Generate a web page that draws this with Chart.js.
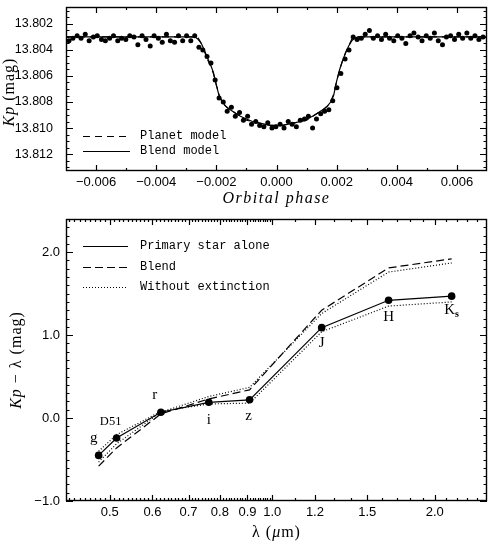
<!DOCTYPE html>
<html>
<head>
<meta charset="utf-8">
<script src="https://cdn.jsdelivr.net/npm/chart.js@4.4.0/dist/chart.umd.min.js"></script>
<style>
  body { margin: 0; background: #fff; }
  #top { position: absolute; left: 0; top: 0; width: 498px; height: 210px; }
  #bottom { position: absolute; left: 0; top: 210px; width: 498px; height: 334px; }
</style>
</head>
<body>
<div id="top"><canvas id="lightCurve"></canvas></div>
<div id="bottom"><canvas id="colorChart"></canvas></div>
<script>
// ---- top panel: light curve ----
const phaseTicks = [-0.006, -0.004, -0.002, 0.000, 0.002, 0.004, 0.006];
const phaseMinor = [-0.005, -0.003, -0.001, 0.001, 0.003, 0.005];
const kpTicks = [13.802, 13.804, 13.806, 13.808, 13.810, 13.812];

const obsPhase = [
  -0.00690, -0.00677, -0.00663, -0.00650, -0.00636, -0.00623, -0.00609, -0.00596, -0.00582, -0.00569,
  -0.00555, -0.00542, -0.00528, -0.00515, -0.00501, -0.00488, -0.00474, -0.00461, -0.00447, -0.00434,
  -0.00420, -0.00407, -0.00393, -0.00380, -0.00366, -0.00353, -0.00339, -0.00326, -0.00312, -0.00299,
  -0.00285, -0.00272, -0.00258, -0.00245, -0.00231, -0.00218, -0.00204, -0.00191, -0.00177, -0.00164,
  -0.00150, -0.00137, -0.00123, -0.00110, -0.00096, -0.00083, -0.00069, -0.00056, -0.00042, -0.00029,
  -0.00015, -0.00002, 0.00012, 0.00025, 0.00039, 0.00052, 0.00066, 0.00079, 0.00093, 0.00106,
  0.00120, 0.00133, 0.00147, 0.00160, 0.00174, 0.00187, 0.00201, 0.00214, 0.00228, 0.00241,
  0.00255, 0.00268, 0.00282, 0.00295, 0.00309, 0.00322, 0.00336, 0.00349, 0.00363, 0.00376,
  0.00390, 0.00403, 0.00417, 0.00430, 0.00444, 0.00457, 0.00471, 0.00484, 0.00498, 0.00511,
  0.00525, 0.00538, 0.00552, 0.00565, 0.00579, 0.00592, 0.00606, 0.00619, 0.00633, 0.00646,
  0.00660, 0.00673, 0.00687
];
const obsKp = [
  13.8033, 13.8031, 13.8029, 13.8031, 13.8028, 13.8033, 13.8030, 13.8029, 13.8032, 13.8033,
  13.8031, 13.8029, 13.8033, 13.8031, 13.8032, 13.8029, 13.8030, 13.8036, 13.8029, 13.8032,
  13.8037, 13.8029, 13.8031, 13.8034, 13.8028, 13.8033, 13.8034, 13.8029, 13.8033, 13.8029,
  13.8033, 13.8029, 13.8038, 13.8040, 13.8045, 13.8050, 13.8063, 13.8077, 13.8080, 13.8087,
  13.8084, 13.8091, 13.8088, 13.8094, 13.8091, 13.8097, 13.8095, 13.8098, 13.8099, 13.8096,
  13.8100, 13.8099, 13.8097, 13.8100, 13.8095, 13.8097, 13.8099, 13.8094, 13.8093, 13.8091,
  13.8100, 13.8093, 13.8089, 13.8087, 13.8086, 13.8079, 13.8069, 13.8058, 13.8047, 13.8040,
  13.8030, 13.8032, 13.8031, 13.8028, 13.8025, 13.8031, 13.8029, 13.8032, 13.8028, 13.8031,
  13.8033, 13.8029, 13.8031, 13.8035, 13.8029, 13.8027, 13.8030, 13.8033, 13.8029, 13.8031,
  13.8027, 13.8033, 13.8036, 13.8030, 13.8029, 13.8032, 13.8028, 13.8031, 13.8027, 13.8031,
  13.8029, 13.8032, 13.8030
];

const modelPhase = [
  -0.0070, -0.0027, -0.0026, -0.0025, -0.0024, -0.0023, -0.0022, -0.0021, -0.0020, -0.0019,
  -0.0018, -0.0017, -0.0016, -0.0014, -0.0012, -0.0010, -0.0008, -0.0006, -0.0004, -0.0002,
  0.0000, 0.0002, 0.0004, 0.0006, 0.0008, 0.0010, 0.0012, 0.0014, 0.0016, 0.0017,
  0.0018, 0.0019, 0.0020, 0.0021, 0.0022, 0.0023, 0.0024, 0.0025, 0.0026, 0.0027, 0.0070
];
const blendKp = [
  13.8030, 13.8030, 13.8032, 13.8035, 13.8040, 13.8046, 13.8051, 13.8057, 13.8067, 13.8076,
  13.8080, 13.8083, 13.8085, 13.8088, 13.8091, 13.8093, 13.8095, 13.8096, 13.8097, 13.8098,
  13.8098, 13.8098, 13.8097, 13.8096, 13.8095, 13.8093, 13.8091, 13.8088, 13.8085, 13.8083,
  13.8080, 13.8075, 13.8064, 13.8055, 13.8048, 13.8042, 13.8037, 13.8033, 13.8031, 13.8030, 13.8030
];
const planetKp = [
  13.8030, 13.8030, 13.8031, 13.8035, 13.8041, 13.8047, 13.8052, 13.8058, 13.8067, 13.8075,
  13.8080, 13.8083, 13.8085, 13.8088, 13.8091, 13.8094, 13.8095, 13.8096, 13.8097, 13.8098,
  13.8098, 13.8098, 13.8097, 13.8096, 13.8095, 13.8094, 13.8091, 13.8088, 13.8085, 13.8083,
  13.8080, 13.8074, 13.8064, 13.8055, 13.8048, 13.8042, 13.8037, 13.8032, 13.8031, 13.8030, 13.8030
];

// ---- bottom panel: Kp - lambda colours ----
const filterNames = ['g', 'D51', 'r', 'i', 'z', 'J', 'H', 'Ks'];
const filterLambda = [0.477, 0.515, 0.622, 0.763, 0.908, 1.235, 1.643, 2.150];
const primaryColor = [-0.45, -0.24, 0.07, 0.19, 0.22, 1.09, 1.42, 1.47];
const primaryNoExt = [-0.40, -0.20, 0.08, 0.17, 0.18, 1.04, 1.35, 1.40];
const blendColor = [-0.58, -0.36, 0.05, 0.23, 0.34, 1.30, 1.81, 1.92];
const blendNoExt = [-0.53, -0.31, 0.07, 0.26, 0.37, 1.26, 1.76, 1.87];
const lambdaTicks = [0.5, 0.6, 0.7, 0.8, 0.9, 1.0, 1.2, 1.5, 2.0];
const colorTicks = [-1.0, 0.0, 1.0, 2.0];

// label offsets (px) from each filter point
const labelOffsets = [[-5, -17], [-6, -16], [-6, -17], [0, 18], [-1, 16], [0, 15], [0, 17], [0, 14]];

function range(a, b, step) {
  const out = [];
  for (let v = a; v <= b + step / 10; v += step) out.push(Math.round(v * 1e6) / 1e6);
  return out;
}
const kpMinor = range(13.8010, 13.8130, 0.0005).filter(v => !kpTicks.some(t => Math.abs(t - v) < 1e-7));
const colorMinor = range(-0.9, 2.4, 0.1).filter(v => !colorTicks.some(t => Math.abs(t - v) < 1e-6));
const lambdaMinor = range(0.42, 0.99, 0.01).concat(range(1.1, 2.4, 0.1))
  .filter(v => !lambdaTicks.some(t => Math.abs(t - v) < 1e-6));

const minus = s => s.replace('-', '\u2212');

// draws the box and inward ticks on all four sides
const axisFrame = {
  id: 'axisFrame',
  afterDatasetsDraw(chart, args, opts) {
    const { ctx, chartArea: a } = chart;
    const sx = chart.scales.x, sy = chart.scales.y;
    ctx.save();
    ctx.strokeStyle = '#000';
    ctx.lineWidth = 1.4;
    ctx.setLineDash([]);
    ctx.strokeRect(a.left + 0.5, a.top + 0.5, a.width - 1, a.height - 1);
    ctx.beginPath();
    ctx.lineWidth = 1.2;
    const xt = (vals, len) => vals.forEach(v => {
      const p = Math.round(sx.getPixelForValue(v)) + 0.5;
      ctx.moveTo(p, a.bottom); ctx.lineTo(p, a.bottom - len);
      ctx.moveTo(p, a.top); ctx.lineTo(p, a.top + len);
    });
    const yt = (vals, len) => vals.forEach(v => {
      const p = Math.round(sy.getPixelForValue(v)) + 0.5;
      ctx.moveTo(a.left, p); ctx.lineTo(a.left + len, p);
      ctx.moveTo(a.right, p); ctx.lineTo(a.right - len, p);
    });
    xt(opts.xMajor, 6); xt(opts.xMinor, 3);
    yt(opts.yMajor, 7); yt(opts.yMinor, 3.5);
    ctx.stroke();
    ctx.restore();
  }
};

// text made of parts with different fonts, centred on (x, y)
function drawRich(ctx, parts, x, y, spacing) {
  ctx.letterSpacing = spacing || '0px';
  let w = 0;
  parts.forEach(p => { ctx.font = p.font; w += ctx.measureText(p.text).width; });
  let cx = x - w / 2;
  ctx.textAlign = 'left';
  ctx.textBaseline = 'middle';
  parts.forEach(p => { ctx.font = p.font; ctx.fillText(p.text, cx, y + (p.dy || 0)); cx += ctx.measureText(p.text).width; });
  ctx.letterSpacing = '0px';
}

function legendLine(ctx, x1, x2, y, dash) {
  ctx.beginPath();
  ctx.setLineDash(dash);
  ctx.moveTo(x1, y + 0.5); ctx.lineTo(x2, y + 0.5);
  ctx.stroke();
}

const serif = '"Liberation Serif", "DejaVu Serif", serif';
const mono = '"Liberation Mono", "DejaVu Sans Mono", monospace';
const sans = '"Liberation Sans", Arial, sans-serif';

const topText = {
  id: 'topText',
  afterDraw(chart) {
    const { ctx, chartArea: a } = chart;
    ctx.save();
    ctx.fillStyle = '#000'; ctx.strokeStyle = '#000'; ctx.lineWidth = 1.2;
    // legend
    legendLine(ctx, a.left + 17, a.left + 64, a.bottom - 35, [7, 5]);
    legendLine(ctx, a.left + 17, a.left + 64, a.bottom - 20, []);
    ctx.setLineDash([]);
    ctx.font = '12px ' + mono; ctx.textAlign = 'left'; ctx.textBaseline = 'middle';
    ctx.fillText('Planet model', a.left + 74, a.bottom - 35);
    ctx.fillText('Blend model', a.left + 74, a.bottom - 20);
    // x title
    drawRich(ctx, [{ text: 'Orbital phase', font: 'italic 16px ' + serif }], (a.left + a.right) / 2, 199, '1.5px');
    // y title
    ctx.translate(10, (a.top + a.bottom) / 2 + 3);
    ctx.rotate(-Math.PI / 2);
    drawRich(ctx, [{ text: 'Kp', font: 'italic 16px ' + serif }, { text: ' (mag)', font: '16px ' + serif }], 0, 0, '1px');
    ctx.restore();
  }
};

const bottomText = {
  id: 'bottomText',
  afterDraw(chart) {
    const { ctx, chartArea: a } = chart;
    const sx = chart.scales.x, sy = chart.scales.y;
    ctx.save();
    ctx.fillStyle = '#000'; ctx.strokeStyle = '#000'; ctx.lineWidth = 1.2;
    // legend
    legendLine(ctx, a.left + 17, a.left + 62, a.top + 27, []);
    legendLine(ctx, a.left + 17, a.left + 62, a.top + 48, [8, 4]);
    legendLine(ctx, a.left + 17, a.left + 62, a.top + 68, [1, 2]);
    ctx.setLineDash([]);
    ctx.font = '12px ' + mono; ctx.textAlign = 'left'; ctx.textBaseline = 'middle';
    ctx.fillText('Primary star alone', a.left + 74, a.top + 27);
    ctx.fillText('Blend', a.left + 74, a.top + 48);
    ctx.fillText('Without extinction', a.left + 74, a.top + 68);
    // filter labels
    filterNames.forEach((name, i) => {
      const px = sx.getPixelForValue(filterLambda[i]) + labelOffsets[i][0];
      const py = sy.getPixelForValue(primaryColor[i]) + labelOffsets[i][1];
      if (name === 'Ks') {
        drawRich(ctx, [{ text: 'K', font: '15px ' + serif }, { text: 's', font: 'bold 10px ' + serif, dy: 4 }], px, py);
      } else if (name === 'D51') {
        drawRich(ctx, [{ text: name, font: '12.5px ' + serif }], px, py);
      } else {
        drawRich(ctx, [{ text: name, font: '15px ' + serif }], px, py);
      }
    });
    // x title
    drawRich(ctx, [{ text: '\u03bb (', font: '16px ' + serif }, { text: '\u03bc', font: 'italic 16px ' + serif },
      { text: 'm)', font: '16px ' + serif }], (a.left + a.right) / 2, 323, '1px');
    // y title
    ctx.translate(17, (a.top + a.bottom) / 2);
    ctx.rotate(-Math.PI / 2);
    drawRich(ctx, [{ text: 'Kp', font: 'italic 16px ' + serif }, { text: ' \u2212 \u03bb (mag)', font: '16px ' + serif }], 0, 0, '1px');
    ctx.restore();
  }
};

function fixAxis(size, horizontal) {
  return scale => {
    if (horizontal) scale.height = size; else scale.width = size;
    scale.paddingTop = 0; scale.paddingBottom = 0; scale.paddingLeft = 0; scale.paddingRight = 0;
  };
}

const noGrid = { display: false, drawTicks: false };

new Chart(document.getElementById('lightCurve'), {
  type: 'scatter',
  data: {
    datasets: [
      {
        label: 'Data',
        data: obsPhase.map((p, i) => ({ x: p, y: obsKp[i] })),
        pointRadius: 2.5,
        pointBackgroundColor: '#000',
        pointBorderWidth: 0,
        showLine: false
      },
      {
        label: 'Blend model',
        type: 'line',
        data: modelPhase.map((p, i) => ({ x: p, y: blendKp[i] })),
        borderColor: '#000',
        borderWidth: 1.2,
        pointRadius: 0,
        tension: 0
      },
      {
        label: 'Planet model',
        type: 'line',
        data: modelPhase.map((p, i) => ({ x: p, y: planetKp[i] })),
        borderColor: '#000',
        borderWidth: 1.2,
        borderDash: [7, 5],
        pointRadius: 0,
        tension: 0
      }
    ]
  },
  options: {
    responsive: true,
    maintainAspectRatio: false,
    animation: false,
    devicePixelRatio: 1,
    layout: { padding: { top: 7, right: 11, left: 0, bottom: 0 } },
    plugins: {
      legend: { display: false },
      tooltip: { enabled: false },
      axisFrame: { xMajor: phaseTicks, xMinor: phaseMinor, yMajor: kpTicks, yMinor: kpMinor }
    },
    scales: {
      x: {
        type: 'linear', min: -0.007, max: 0.007,
        grid: noGrid, border: { display: false },
        ticks: { color: '#000', padding: 4, autoSkip: false, maxRotation: 0, font: { family: sans, size: 13 },
          callback: v => minus(v.toFixed(3)) },
        afterBuildTicks: s => { s.ticks = phaseTicks.map(v => ({ value: v })); },
        afterFit: fixAxis(39, true)
      },
      y: {
        type: 'linear', reverse: true, min: 13.8007, max: 13.8133,
        grid: noGrid, border: { display: false },
        ticks: { color: '#000', padding: 13, autoSkip: false, font: { family: sans, size: 12.5 },
          callback: v => v.toFixed(3) },
        afterBuildTicks: s => { s.ticks = kpTicks.map(v => ({ value: v })); },
        afterFit: fixAxis(66, false)
      }
    }
  },
  plugins: [axisFrame, topText]
});

const toPoints = arr => filterLambda.map((l, i) => ({ x: l, y: arr[i] }));

new Chart(document.getElementById('colorChart'), {
  type: 'line',
  data: {
    datasets: [
      {
        label: 'Primary star alone',
        data: toPoints(primaryColor),
        borderColor: '#000', borderWidth: 1.2,
        pointRadius: 3.8, pointBackgroundColor: '#000', pointBorderWidth: 0,
        tension: 0
      },
      {
        label: 'Blend',
        data: toPoints(blendColor),
        borderColor: '#000', borderWidth: 1.2, borderDash: [8, 4],
        pointRadius: 0, tension: 0
      },
      {
        label: 'Without extinction',
        data: toPoints(primaryNoExt),
        borderColor: '#000', borderWidth: 1.2, borderDash: [1, 2],
        pointRadius: 0, tension: 0
      },
      {
        label: 'Blend without extinction',
        data: toPoints(blendNoExt),
        borderColor: '#000', borderWidth: 1.2, borderDash: [1, 2],
        pointRadius: 0, tension: 0
      }
    ]
  },
  options: {
    responsive: true,
    maintainAspectRatio: false,
    animation: false,
    devicePixelRatio: 1,
    layout: { padding: { top: 9, right: 11, left: 0, bottom: 0 } },
    plugins: {
      legend: { display: false },
      tooltip: { enabled: false },
      axisFrame: { xMajor: lambdaTicks, xMinor: lambdaMinor, yMajor: colorTicks, yMinor: colorMinor }
    },
    scales: {
      x: {
        type: 'logarithmic', min: 0.415, max: 2.5,
        grid: noGrid, border: { display: false },
        ticks: { color: '#000', padding: 4, autoSkip: false, maxRotation: 0, font: { family: sans, size: 13 },
          callback: v => Number(v).toFixed(1) },
        afterBuildTicks: s => { s.ticks = lambdaTicks.map(v => ({ value: v })); },
        afterFit: fixAxis(43, true)
      },
      y: {
        type: 'linear', min: -1.0, max: 2.4,
        grid: noGrid, border: { display: false },
        ticks: { color: '#000', padding: 6, autoSkip: false, font: { family: sans, size: 13 },
          callback: v => minus(v.toFixed(1)) },
        afterBuildTicks: s => { s.ticks = colorTicks.map(v => ({ value: v })); },
        afterFit: fixAxis(66, false)
      }
    }
  },
  plugins: [axisFrame, bottomText]
});
</script>
</body>
</html>
